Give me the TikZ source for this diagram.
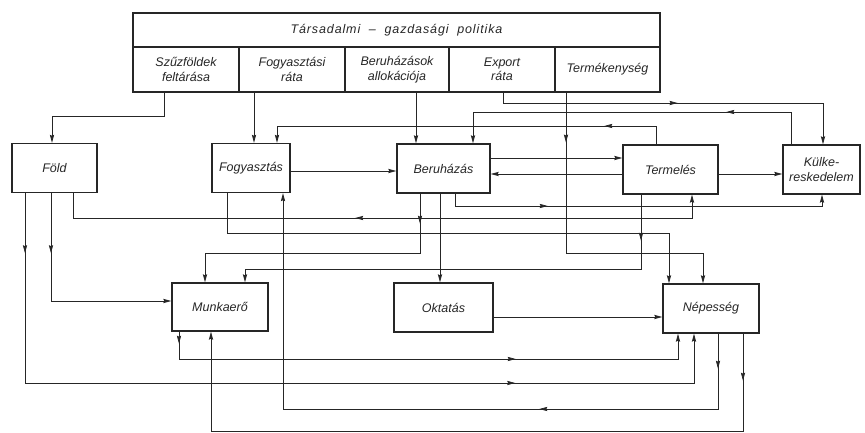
\documentclass[tikz,border=0pt]{standalone}
\usepackage{fontspec}
\setmainfont{Liberation Sans}
\newfontfamily\titlefont[LetterSpace=7]{Liberation Sans}
\usetikzlibrary{arrows.meta,decorations.markings}

\begin{document}
\begin{tikzpicture}[x=1pt,y=-1pt,>={Stealth[length=8pt,width=4.2pt,inset=1pt]},
  font=\itshape\fontsize{12.5}{14.5}\selectfont,color=black!85]
\tikzset{box/.style={draw,line width=1.4pt,inner sep=1pt,align=center,minimum height=49}}
\tikzset{cell/.style={draw,line width=1.1pt,inner sep=1pt,align=center,minimum height=45}}
\tikzset{link/.style={draw,line width=.75pt,->}}
\tikzset{midfwd/.style={postaction={decorate,decoration={markings,mark=at position #1 with {\arrow{>}}}}}}
\tikzset{midback/.style={postaction={decorate,decoration={markings,mark=at position #1 with {\arrowreversed{>}}}}}}
\useasboundingbox (0,0) rectangle (865,433);

% policy table
\node[draw,line width=1.1pt,minimum width=527,minimum height=34] (pol) at (396.5,30)
     {\titlefont\itshape Társadalmi \ – \ gazdasági \ politika};
\node[cell,minimum width=106] (szuz) at (186,69.5)   {Szűzföldek\\feltárása};
\node[cell,minimum width=106] (rata) at (292,69.5)   {Fogyasztási\\ráta};
\node[cell,minimum width=104] (allok) at (397,69.5)  {Beruházások\\allokációja};
\node[cell,minimum width=106] (exp) at (502,69.5)    {Export\\ráta};
\node[cell,minimum width=105] (termek) at (607.5,69.5) {Termékenység};

% blocks
\node[box,minimum width=85] (fold) at (54.5,168)   {Föld};
\node[box,minimum width=78] (fogy) at (251,168)    {Fogyasztás};
\node[box,minimum width=93] (ber) at (443.5,168.5) {Beruházás};
\node[box,minimum width=95] (term) at (670.5,169.5) {Termelés};
\node[box,minimum width=77] (kulk) at (821.5,169.5) {Külke-\\reskedelem};
\node[box,minimum width=96,minimum height=48] (munka) at (220,307) {Munkaerő};
\node[box,minimum width=99] (okt) at (443.5,307.5) {Oktatás};
\node[box,minimum width=96] (nep) at (711,308.5)  {Népesség};

% from the policy table
\draw[link] (szuz.south -| 164,0) |- (52,116) -- (fold.north -| 52,0);
\draw[link] (rata.south -| 254,0) -- (fogy.north -| 254,0);
\draw[link] (allok.south -| 416,0) -- (ber.north -| 416,0);
\draw[link,midfwd=185pt] (exp.south -| 503,0) |- (823,103) -- (kulk.north -| 823,0);
\draw[link,midfwd=50pt] (termek.south -| 566,0) |- (703,253) -- (nep.north -| 703,0);

% feedback above the blocks
\draw[link,midfwd=97pt] (kulk.north -| 791,0) |- (473,112) -- (ber.north -| 473,0);
\draw[link,midfwd=70pt] (term.north -| 656,0) |- (277,126) -- (fogy.north -| 277,0);

% side by side
\draw[link] (fogy.east |- 0,171) -- (ber.west |- 0,171);
\draw[link] (ber.east |- 0,158) -- (term.west |- 0,158);
\draw[link] (term.west |- 0,174) -- (ber.east |- 0,174);
\draw[link] (term.east |- 0,174) -- (kulk.west |- 0,174);
\draw[link] (okt.east |- 0,317) -- (nep.west |- 0,317);

% middle band
\draw[link,midfwd=60pt] (fold.south -| 51,0) |- (munka.west |- 0,301);
\draw[link,midback=307pt] (fold.south -| 73,0) |- (692,218) -- (term.south -| 692,0);
\draw[link,midfwd=105pt] (ber.south -| 455,0) |- (822,206) -- (kulk.south -| 822,0);
\draw[link] (fogy.south -| 227,0) |- (669,233) -- (nep.north -| 669,0);
\draw[link,midfwd=30pt] (ber.south -| 420,0) |- (205,253) -- (munka.north -| 205,0);
\draw[link,midfwd=46pt] (term.south -| 641,0) |- (245,269) -- (munka.north -| 245,0);
\draw[link] (ber.south -| 440,0) -- (okt.north -| 440,0);

% bottom band
\draw[link,midfwd=60pt,midfwd=680pt] (fold.south -| 25,0) |- (694,383) -- (nep.south -| 694,0);
\draw[link,midfwd=12pt,midfwd=364pt] (munka.south -| 179,0) |- (678,359) -- (nep.south -| 678,0);
\draw[link,midfwd=35pt,midfwd=254pt] (nep.south -| 718,0) |- (283,409) -- (fogy.south -| 283,0);
\draw[link,midfwd=47pt] (nep.south -| 743,0) |- (211,431) -- (munka.south -| 211,0);
\end{tikzpicture}
\end{document}
